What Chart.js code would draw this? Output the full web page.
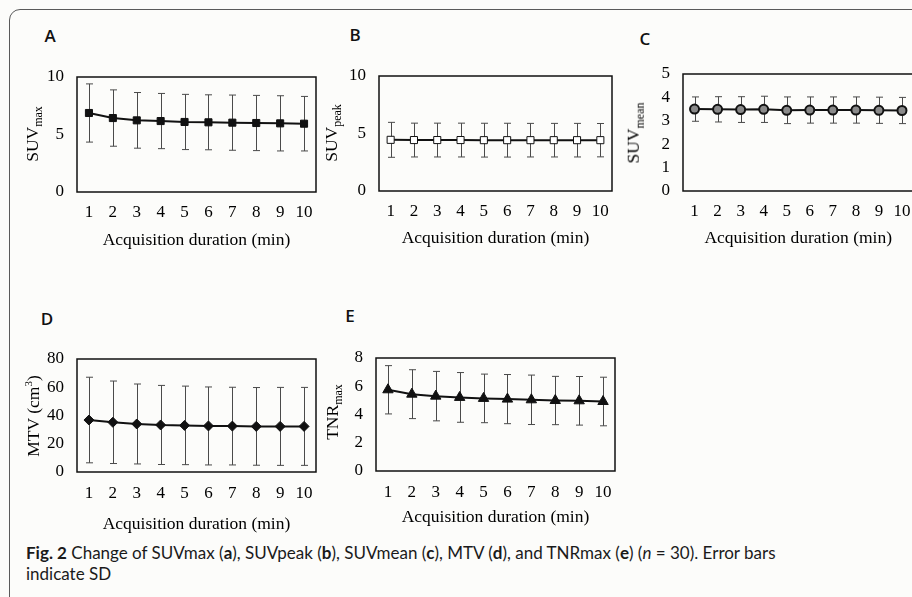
<!DOCTYPE html>
<html>
<head>
<meta charset="utf-8">
<script src="https://cdn.jsdelivr.net/npm/chart.js@4.4.1/dist/chart.umd.min.js"></script>
<style>
  html, body { margin: 0; padding: 0; }
  body { width: 912px; height: 597px; overflow: hidden; position: relative; background: #fcfcfa; font-family: "Liberation Serif", serif; }
  .frame { position: absolute; left: 9px; top: 9px; width: 1000px; height: 700px; border: 1.5px solid #5a5a5a; border-radius: 11px; }
  .panel { position: absolute; }
  .letter { position: absolute; transform: translate(-50%, -50%); font-family: "Open Sans", sans-serif; font-weight: 600; font-size: 17px; color: #111; }
  .ytitle { position: absolute; transform: translate(-50%, -50%) rotate(-90deg); white-space: nowrap; font-size: 17.5px; color: #000; z-index: 2; }
  .ytitle sub { font-size: 12px; }
  .ytitle sup { font-size: 11px; }
  .caption { position: absolute; left: 26px; top: 542px; font-family: "Lato", sans-serif; font-size: 17px; line-height: 21px; color: #1a1a1a; }
</style>
</head>
<body>
<div class="frame"></div>

<div class="letter" style="left:50px;top:35px">A</div>
<div class="letter" style="left:355px;top:34px">B</div>
<div class="letter" style="left:645px;top:38px">C</div>
<div class="letter" style="left:47px;top:318px">D</div>
<div class="letter" style="left:350px;top:315px">E</div>

<div class="ytitle" style="left:34px;top:134px">SUV<sub>max</sub></div>
<div class="ytitle" style="left:333px;top:133px">SUV<sub>peak</sub></div>
<div class="ytitle" style="left:635px;top:133px">SUV<sub>mean</sub></div>
<div class="ytitle" style="left:33px;top:416px">MTV (cm<sup>3</sup>)</div>
<div class="ytitle" style="left:334px;top:412px">TNR<sub>max</sub></div>

<canvas id="chartA" class="panel"></canvas>
<canvas id="chartB" class="panel"></canvas>
<canvas id="chartC" class="panel"></canvas>
<canvas id="chartD" class="panel"></canvas>
<canvas id="chartE" class="panel"></canvas>

<div class="caption"><b>Fig. 2</b> Change of SUVmax (<b>a</b>), SUVpeak (<b>b</b>), SUVmean (<b>c</b>), MTV (<b>d</b>), and TNRmax (<b>e</b>) (<i>n</i> = 30). Error bars<br>indicate SD</div>

<script>
// acquisition duration categories (min)
const durations = ['1', '2', '3', '4', '5', '6', '7', '8', '9', '10'];

// A - SUVmax
const suvMaxMean = [6.87, 6.43, 6.23, 6.17, 6.09, 6.06, 6.03, 6.00, 5.97, 5.94];
const suvMaxSd   = [2.53, 2.45, 2.42, 2.40, 2.40, 2.39, 2.40, 2.40, 2.40, 2.37];
const suvMaxTicks = [0, 5, 10];

// B - SUVpeak
const suvPeakMean = [4.45, 4.43, 4.43, 4.43, 4.42, 4.42, 4.42, 4.42, 4.42, 4.42];
const suvPeakSd   = [1.52, 1.47, 1.47, 1.47, 1.47, 1.47, 1.46, 1.46, 1.46, 1.45];
const suvPeakTicks = [0, 5, 10];

// C - SUVmean
const suvMeanMean = [3.50, 3.49, 3.48, 3.49, 3.45, 3.46, 3.46, 3.46, 3.45, 3.44];
const suvMeanSd   = [0.52, 0.54, 0.55, 0.56, 0.57, 0.56, 0.56, 0.56, 0.56, 0.56];
const suvMeanTicks = [0, 1, 2, 3, 4, 5];

// D - MTV (cm3)
const mtvMean = [36.8, 35.2, 34.0, 33.3, 33.0, 32.6, 32.5, 32.3, 32.3, 32.3];
const mtvSd   = [30.3, 29.2, 28.3, 28.0, 27.8, 27.6, 27.5, 27.5, 27.6, 27.6];
const mtvTicks = [0, 20, 40, 60, 80];

// E - TNRmax
const tnrMean = [5.75, 5.44, 5.30, 5.21, 5.14, 5.09, 5.04, 4.99, 4.97, 4.92];
const tnrSd   = [1.71, 1.73, 1.75, 1.76, 1.72, 1.74, 1.75, 1.71, 1.72, 1.72];
const tnrTicks = [0, 2, 4, 6, 8];

Chart.defaults.font.family = '"Liberation Serif", serif';
Chart.defaults.color = '#000';

// draw the SD whiskers under the markers
const errorBars = {
    id: 'errorBars',
    beforeDatasetsDraw(chart) {
        const ctx = chart.ctx;
        const yScale = chart.scales.y;
        chart.data.datasets.forEach((ds, di) => {
            const meta = chart.getDatasetMeta(di);
            ctx.save();
            ctx.strokeStyle = '#4a4a4a';
            ctx.lineWidth = 1;
            meta.data.forEach((pt, i) => {
                const x = Math.round(pt.x) + 0.5;
                const top = yScale.getPixelForValue(ds.data[i] + ds.sd[i]);
                const bot = yScale.getPixelForValue(ds.data[i] - ds.sd[i]);
                ctx.beginPath();
                ctx.moveTo(x, top); ctx.lineTo(x, bot);
                ctx.moveTo(x - 3.5, top); ctx.lineTo(x + 3.5, top);
                ctx.moveTo(x - 3.5, bot); ctx.lineTo(x + 3.5, bot);
                ctx.stroke();
            });
            ctx.restore();
        });
    }
};

// box around the plot area
const plotBox = {
    id: 'plotBox',
    afterDraw(chart) {
        const a = chart.chartArea;
        const ctx = chart.ctx;
        ctx.save();
        ctx.strokeStyle = '#111';
        ctx.lineWidth = 1.5;
        ctx.strokeRect(a.left, a.top, a.right - a.left, a.bottom - a.top);
        ctx.restore();
    }
};

function makePanel(id, box, tickY, titleY, mean, sd, ticks, marker) {
    const yAxisW = 45, padTop = 12, padRight = 6;
    const canvas = document.getElementById(id);
    const bottom = titleY + 15;
    const w = box.r - box.l + yAxisW + padRight;
    const h = bottom - box.t + padTop;
    canvas.style.left = (box.l - yAxisW) + 'px';
    canvas.style.top = (box.t - padTop) + 'px';
    canvas.style.width = w + 'px';
    canvas.style.height = h + 'px';
    canvas.width = w;
    canvas.height = h;

    new Chart(canvas.getContext('2d'), {
        type: 'line',
        data: {
            labels: durations,
            datasets: [{
                data: mean,
                sd: sd,
                borderColor: '#111',
                borderWidth: 2,
                tension: 0,
                pointStyle: marker.style,
                pointRadius: marker.radius,
                pointBackgroundColor: marker.fill,
                pointBorderColor: '#111',
                pointBorderWidth: marker.border
            }]
        },
        options: {
            responsive: false,
            animation: false,
            events: [],
            layout: { padding: { left: 0, top: padTop, right: padRight, bottom: 0 } },
            plugins: { legend: { display: false }, tooltip: { enabled: false } },
            scales: {
                x: {
                    type: 'category',
                    offset: true,
                    grid: { display: false, drawTicks: false },
                    border: { display: false },
                    ticks: { padding: tickY - box.b - 9.5, font: { size: 17 }, maxRotation: 0, autoSkip: false },
                    title: { display: true, text: 'Acquisition duration (min)', font: { size: 17.5 }, padding: { top: 0, bottom: 4.5 } },
                    afterFit: s => { s.height = bottom - box.b; s.paddingLeft = 0; s.paddingRight = 0; }
                },
                y: {
                    min: ticks[0],
                    max: ticks[ticks.length - 1],
                    grid: { display: false, drawTicks: false },
                    border: { display: false },
                    ticks: { stepSize: ticks[1] - ticks[0], padding: 13, font: { size: 17 }, autoSkip: false },
                    afterFit: s => { s.width = yAxisW; s.paddingTop = 0; s.paddingBottom = 0; }
                }
            }
        },
        plugins: [errorBars, plotBox]
    });
}

makePanel('chartA', { l: 77, t: 77, r: 316, b: 192 }, 212, 240, suvMaxMean, suvMaxSd, suvMaxTicks,
    { style: 'rect', radius: 5, fill: '#111', border: 1 });
makePanel('chartB', { l: 379, t: 76, r: 612, b: 191 }, 211, 238, suvPeakMean, suvPeakSd, suvPeakTicks,
    { style: 'rect', radius: 5, fill: '#fff', border: 1 });
makePanel('chartC', { l: 683, t: 74, r: 914, b: 191 }, 211, 238, suvMeanMean, suvMeanSd, suvMeanTicks,
    { style: 'circle', radius: 4.5, fill: '#8a8a8a', border: 2 });
makePanel('chartD', { l: 77, t: 359, r: 316, b: 472 }, 493, 524, mtvMean, mtvSd, mtvTicks,
    { style: 'rectRot', radius: 5, fill: '#111', border: 1 });
makePanel('chartE', { l: 376, t: 358, r: 616, b: 471 }, 492, 517, tnrMean, tnrSd, tnrTicks,
    { style: 'triangle', radius: 6, fill: '#111', border: 1 });
</script>
</body>
</html>
